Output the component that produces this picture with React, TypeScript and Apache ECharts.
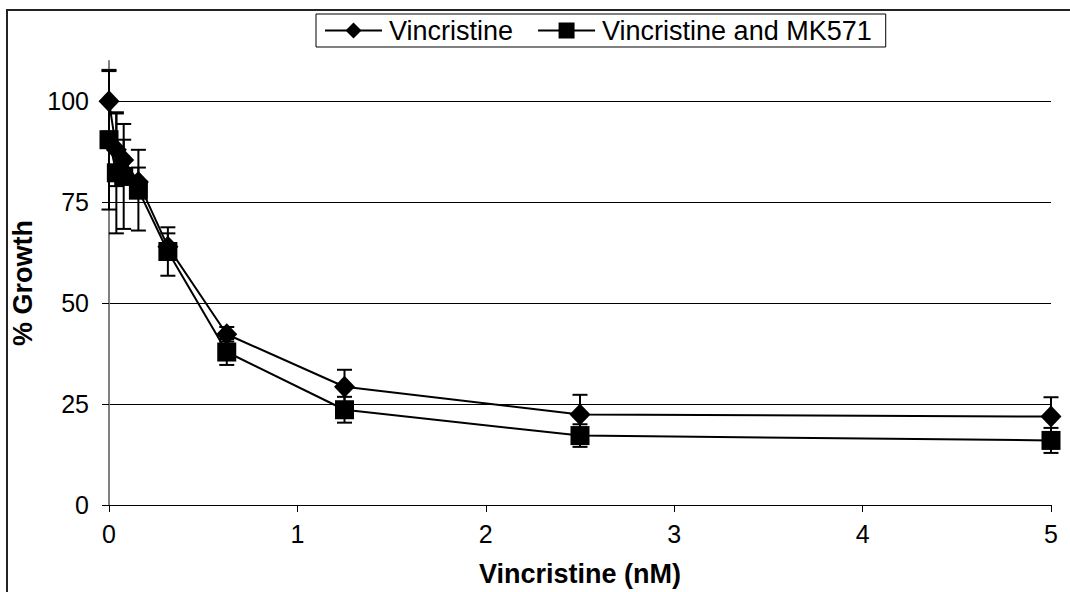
import React, { useEffect, useRef } from "react";
import * as echarts from "echarts";

const concentrations = [0, 0.039, 0.078, 0.156, 0.3125, 0.625, 1.25, 2.5, 5];
const vincristine = [100, 88, 85.5, 80, 64, 42.3, 29.3, 22.4, 21.9];
const vincristineErr = [7.5, 9, 5, 3.6, 3.3, 1.8, 4.2, 4.9, 4.8];
const combo = [90.5, 82.3, 81.4, 78, 62.8, 37.9, 23.6, 17.2, 16];
const comboErr = [17.3, 15, 13, 10, 6, 3.2, 3.2, 2.8, 3.1];
const yTicks = [0, 25, 50, 75, 100];
const seriesNames = ["Vincristine", "Vincristine and MK571"];

const FONT = "'Liberation Sans', Arial, sans-serif";

function errorData(vals: number[], errs: number[]) {
  return concentrations.map((x, i) => [x, vals[i], vals[i] - errs[i], vals[i] + errs[i]]);
}

function renderErr(params: any, api: any) {
  const x = api.value(0);
  const lo = api.coord([x, api.value(2)]);
  const hi = api.coord([x, api.value(3)]);
  const cap = 7.5;
  const style = { stroke: "#000", lineWidth: 2 };
  return {
    type: "group",
    children: [
      { type: "line", shape: { x1: lo[0], y1: lo[1], x2: hi[0], y2: hi[1] }, style },
      { type: "line", shape: { x1: hi[0] - cap, y1: hi[1], x2: hi[0] + cap, y2: hi[1] }, style },
      { type: "line", shape: { x1: lo[0] - cap, y1: lo[1], x2: lo[0] + cap, y2: lo[1] }, style },
    ],
  };
}

export default function App() {
  const ref = useRef<HTMLDivElement>(null);
  useEffect(() => {
    const chart = echarts.init(ref.current!, null, { renderer: "svg" });
    chart.setOption({
      animation: false,
      backgroundColor: "#fff",
      textStyle: { fontFamily: FONT, color: "#000" },
      graphic: [
        {
          type: "rect",
          shape: { x: 7, y: 10, width: 1200, height: 800 },
          style: { fill: "none", stroke: "#222", lineWidth: 2 },
          z: 0,
        },
      ],
      legend: {
        data: seriesNames,
        left: 316,
        top: 14,
        orient: "horizontal",
        borderColor: "#000",
        borderWidth: 1,
        padding: [3, 14, 3, 8],
        itemWidth: 57,
        itemHeight: 20,
        itemGap: 24,
        textStyle: { fontSize: 27, fontFamily: FONT, color: "#000", padding: [0, 0, 0, 2] },
      },
      grid: { left: 109, right: 19, top: 61, bottom: 85.5 },
      xAxis: {
        type: "value",
        min: 0,
        max: 5,
        interval: 1,
        name: "Vincristine (nM)",
        nameLocation: "middle",
        nameGap: 55,
        nameTextStyle: { fontSize: 27, fontWeight: "bold", fontFamily: FONT, color: "#000" },
        axisLine: { show: true, onZero: false, lineStyle: { color: "#000", width: 1 } },
        axisTick: { show: true, length: 7, lineStyle: { color: "#000", width: 1 } },
        axisLabel: { fontSize: 25, color: "#000", margin: 16, fontFamily: FONT },
        splitLine: { show: false },
      },
      yAxis: {
        type: "value",
        min: 0,
        max: 110,
        interval: 25,
        name: "% Growth",
        nameLocation: "middle",
        nameGap: 71,
        nameRotate: 90,
        nameTextStyle: { fontSize: 27, fontWeight: "bold", fontFamily: FONT, color: "#000" },
        axisLine: { show: true, lineStyle: { color: "#808080", width: 2 } },
        axisTick: { show: true, length: 7, customValues: yTicks, lineStyle: { color: "#000", width: 1 } },
        axisLabel: { fontSize: 25, color: "#000", margin: 20, fontFamily: FONT, customValues: yTicks },
        splitLine: { show: true, lineStyle: { color: "#000", width: 1 } },
      },
      series: [
        {
          name: seriesNames[0],
          type: "line",
          data: concentrations.map((x, i) => [x, vincristine[i]]),
          symbol: "diamond",
          symbolSize: [21, 22],
          lineStyle: { color: "#000", width: 2 },
          itemStyle: { color: "#000" },
          z: 3,
        },
        {
          name: seriesNames[1],
          type: "line",
          data: concentrations.map((x, i) => [x, combo[i]]),
          symbol: "rect",
          symbolSize: 19,
          lineStyle: { color: "#000", width: 2 },
          itemStyle: { color: "#000" },
          z: 3,
        },
        {
          type: "custom",
          renderItem: renderErr,
          data: errorData(vincristine, vincristineErr),
          encode: { x: 0, y: [1, 2, 3] },
          z: 4,
          clip: false,
        },
        {
          type: "custom",
          renderItem: renderErr,
          data: errorData(combo, comboErr),
          encode: { x: 0, y: [1, 2, 3] },
          z: 4,
          clip: false,
        },
      ],
    });
    return () => chart.dispose();
  }, []);
  return (
    <div
      ref={ref}
      style={{ position: "absolute", left: 0, top: 0, width: 1070, height: 592 }}
    />
  );
}
